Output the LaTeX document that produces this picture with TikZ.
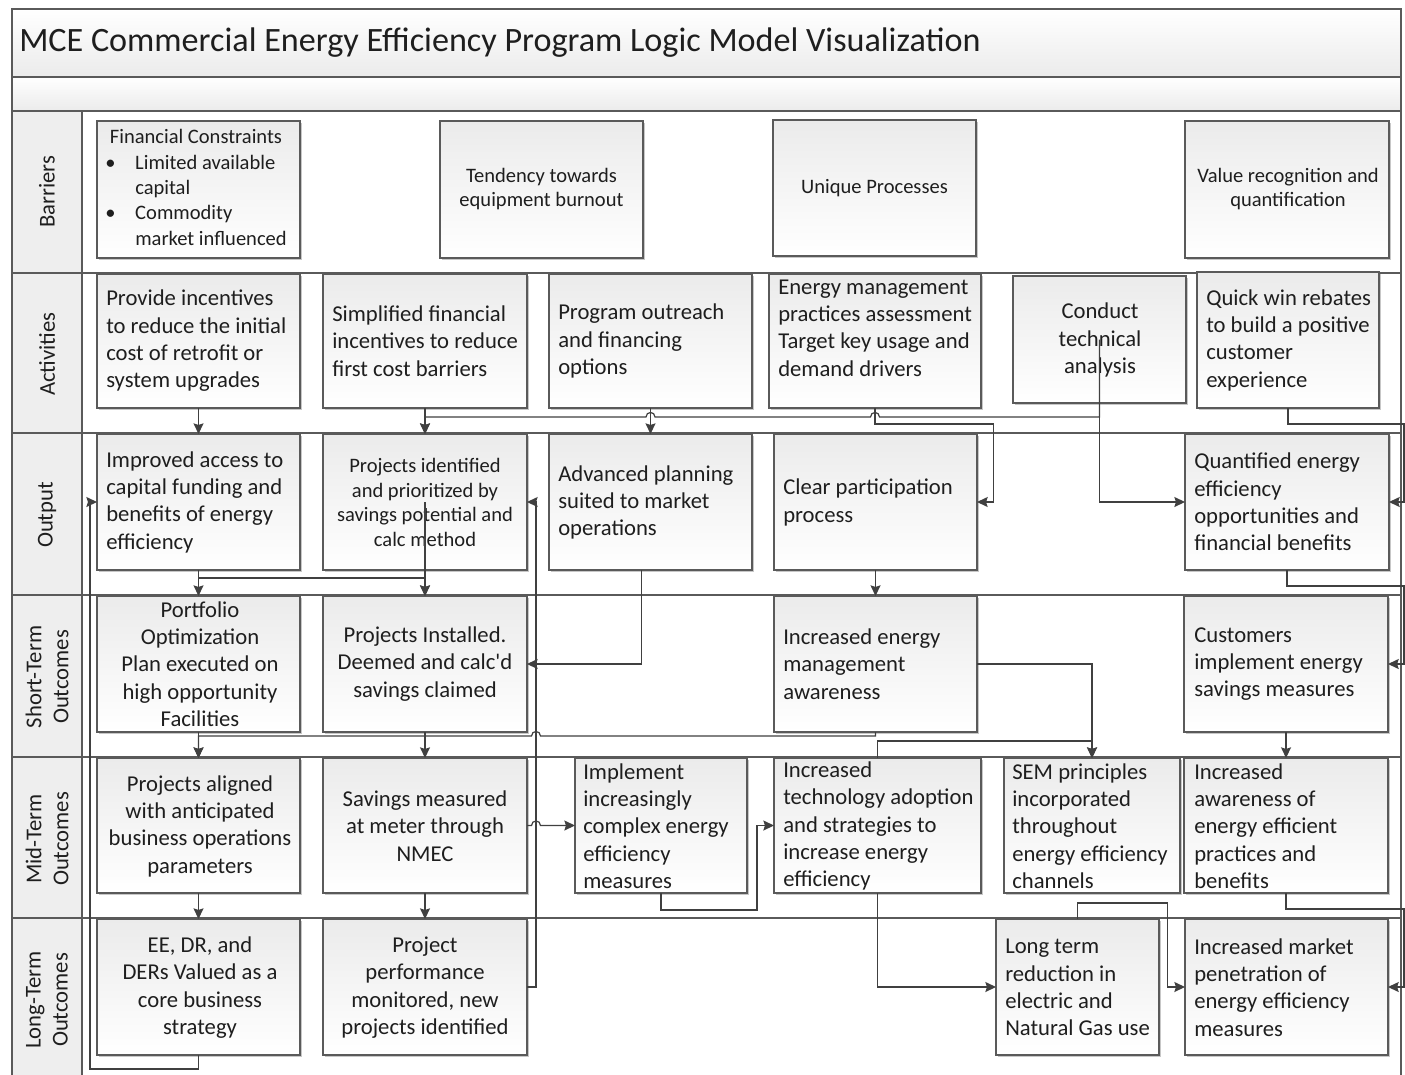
\documentclass[tikz,border=0pt]{standalone}
\usepackage{fontspec}
\setmainfont{Carlito}
\usetikzlibrary{arrows.meta,shadows}
\definecolor{ln}{HTML}{404040}
\definecolor{bd}{HTML}{5A5A5A}
\definecolor{tx}{HTML}{1E1E1E}
\definecolor{hd}{HTML}{EEEEEE}
\definecolor{bt}{HTML}{EBEBEB}
\newcommand{\bigf}{\fontsize{17pt}{20.5pt}\selectfont}
\newcommand{\smf}{\fontsize{15.4pt}{18.6pt}\selectfont}
\newcommand{\bx}[5]{\node[box, minimum width={(#4-#2)*0.75pt}, minimum height={(#5-#3)*0.75pt}] (#1) at ({(#2+#4)/2},{(#3+#5)/2}) {};}
\begin{document}
\begin{tikzpicture}[x=0.75pt,y=-0.75pt,
 box/.style={draw=bd, line width=0.8pt, top color=bt, bottom color=white, inner sep=0pt, outer sep=0pt,
   drop shadow={shadow xshift=1.3pt,shadow yshift=-1.3pt,opacity=0.22,fill=black}},
 tl/.style={anchor=west, align=left, inner sep=0pt, font=\bigf, text=tx},
 tc/.style={anchor=center, align=center, inner sep=0pt, font=\bigf, text=tx},
 conn/.style={draw=ln, line width=0.9pt, -{Stealth[length=8pt,width=7.5pt,inset=1.2pt]}},
 lane/.style={draw=bd, line width=0.8pt},
 lbl/.style={rotate=90, align=center, font=\fontsize{17pt}{20.3pt}\selectfont, text=tx, inner sep=0pt}
]
\useasboundingbox (0,0) rectangle (1405,1074);
\fill[white] (0,0) rectangle (1405,1074);
% frame and lanes
\path[lane, top color=white, bottom color=bt] (12,9) rectangle (1401,77);
\path[lane, top color=white, bottom color=bt] (12,77) rectangle (1401,111);
\path[lane, fill=hd] (12,111) rectangle (82,1082);
\draw[lane] (1401,111) -- (1401,1082);
\foreach \yy in {273,433,595,757,918} \draw[lane] (12,\yy) -- (1401,\yy);
\node[anchor=west, font=\fontsize{25.6pt}{30pt}\selectfont, text=tx, inner sep=0pt] (title) at (19,43) {MCE Commercial Energy Efficiency Program Logic Model Visualization};
\node[lbl] (L1) at (47,192) {Barriers};
\node[lbl] (L2) at (47,354) {Activities};
\node[lbl] (L3) at (47,515) {Output};
\node[lbl] (L4) at (47,677) {Short-Term\\Outcomes};
\node[lbl] (L5) at (47,839) {Mid-Term\\Outcomes};
\node[lbl] (L6) at (47,1000) {Long-Term\\Outcomes};
% boxes
\bx{B1}{97}{121}{300}{258}
\bx{B2}{440}{121}{643}{258}
\bx{B3}{773}{120}{976}{256}
\bx{B4}{1185}{121}{1389}{258}
\bx{A1}{97}{274}{300}{408}
\bx{A2}{323}{274}{527}{408}
\bx{A3}{549}{274}{752}{408}
\bx{A4}{769}{274}{981}{408}
\bx{A5}{1013}{276}{1186}{403}
\bx{A6}{1197}{272}{1379}{408}
\bx{O1}{97}{434}{300}{570}
\bx{O2}{323}{434}{527}{570}
\bx{O3}{549}{434}{752}{570}
\bx{O4}{774}{434}{977}{570}
\bx{O6}{1185}{434}{1389}{570}
\bx{S1}{97}{596}{300}{732}
\bx{S2}{323}{596}{527}{732}
\bx{S4}{774}{596}{977}{732}
\bx{S5}{1184}{596}{1388}{732}
\bx{M1}{97}{758}{300}{893}
\bx{M2}{323}{758}{527}{893}
\bx{M3}{575}{758}{747}{893}
\bx{M4}{774}{758}{981}{893}
\bx{M5}{1004}{758}{1180}{893}
\bx{M6}{1184}{758}{1388}{893}
\bx{T1}{97}{919}{300}{1055}
\bx{T2}{323}{919}{527}{1055}
\bx{T4}{996}{919}{1159}{1055}
\bx{T5}{1185}{919}{1388}{1055}
% texts
\node[anchor=west, inner sep=0pt, text=tx, font=\fontsize{15.4pt}{19pt}\selectfont] (B1t) at (105,189.5)
 {\begin{tabular}{@{}p{22.5pt}@{}l@{}}\multicolumn{2}{@{}c@{}}{Financial Constraints}\\ • & Limited available\\ & capital\\ • & Commodity\\ & market influenced\end{tabular}};
\node[tc, font=\smf] (B2t) at (541.5,189) {Tendency towards\\equipment burnout};
\node[tc, font=\smf] (B3t) at (874.5,188) {Unique Processes};
\node[tc, font=\smf] (B4t) at (1288,189) {Value recognition and\\quantification};
\node[tl] (A1t) at (106,341) {Provide incentives\\to reduce the initial\\cost of retrofit or\\system upgrades};
\node[tl] (A2t) at (332,341) {Simplified financial\\incentives to reduce\\first cost barriers};
\node[tl] (A3t) at (558,341) {Program outreach\\and financing\\options};
\node[tl] (A4t) at (778,328) {Energy management\\practices assessment\\Target key usage and\\demand drivers};
\node[tc] (A5t) at (1100,340) {Conduct\\technical\\analysis};
\node[tl] (A6t) at (1206,340) {Quick win rebates\\to build a positive\\customer\\experience};
\node[tl] (O1t) at (106,502) {Improved access to\\capital funding and\\benefits of energy\\efficiency};
\node[tc, font=\smf] (O2t) at (425,502.5) {Projects identified\\and prioritized by\\savings potential and\\calc method};
\node[tl] (O3t) at (558,502.5) {Advanced planning\\suited to market\\operations};
\node[tl] (O4t) at (783,502.5) {Clear participation\\process};
\node[tl] (O6t) at (1194,502) {Quantified energy\\efficiency\\opportunities and\\financial benefits};
\node[tc] (S1t) at (200,664) {Portfolio\\Optimization\\Plan executed on\\high opportunity\\Facilities};
\node[tc] (S2t) at (425,664) {Projects Installed.\\Deemed and calc\textquotesingle d\\savings claimed};
\node[tl] (S4t) at (783,664) {Increased energy\\management\\awareness};
\node[tl] (S5t) at (1194,664) {Customers\\implement energy\\savings measures};
\node[tc] (M1t) at (200,826) {Projects aligned\\with anticipated\\business operations\\parameters};
\node[tc] (M2t) at (425,826) {Savings measured\\at meter through\\NMEC};
\node[tl] (M3t) at (583,826) {Implement\\increasingly\\complex energy\\efficiency\\measures};
\node[tl] (M4t) at (783,826) {Increased\\technology adoption\\and strategies to\\increase energy\\efficiency};
\node[tl] (M5t) at (1012,826) {SEM principles\\incorporated\\throughout\\energy efficiency\\channels};
\node[tl] (M6t) at (1194,826) {Increased\\awareness of\\energy efficient\\practices and\\benefits};
\node[tc] (T1t) at (200,987.5) {EE, DR, and\\DERs Valued as a\\core business\\strategy};
\node[tc] (T2t) at (425,987.5) {Project\\performance\\monitored, new\\projects identified};
\node[tl] (T4t) at (1005,987.5) {Long term\\reduction in\\electric and\\Natural Gas use};
\node[tl] (T5t) at (1194,987.5) {Increased market\\penetration of\\energy efficiency\\measures};
% connectors
\draw[conn] (A1.south) -- (O1.north);
\draw[conn] (A2.south) -- (O2.north);
\draw[conn] (A3.south) -- (O3.north);
\draw[conn] (A5.center) |- (879.5,417) .. controls (879.5,411) and (870.5,411) .. (870.5,417) -- (655,417) .. controls (655,411) and (646,411) .. (646,417) -| (O2.north);
\draw[conn] (A5.center) |- (O6.west);
\draw[conn] (A4.south) -- (875,424) -- (993.6,424) |- (O4.east);
\draw[conn] (A6.south) -- (1288,424) -- (1404,424) |- (O6.east);
\draw[conn] (O1.south) -- (S1.north);
\draw[conn] (O1.south) -- (198.5,578) -| (S2.north);
\draw[conn] (O2.center) -- (S2.north);
\draw[conn] ([xshift=-6.75pt]O3.south) |- (S2.east);
\draw[conn] (O4.south) -- (S4.north);
\draw[conn] (O6.south) -- (1287,586) -- (1404,586) |- (S5.east);
\draw[conn] (S1.south) -- (M1.north);
\draw[conn] (S2.south) -- (M2.north);
\draw[conn] (S4.south) -- (875.5,736) -- (540.5,736) .. controls (540.5,730) and (531.5,730) .. (531.5,736) -| (M1.north);
\draw[conn] (S4.east) -| (M5.north);
\draw[conn] (M4.north) -- (877.5,741) -| (M5.north);
\draw[conn] (S5.south) -- (M6.north);
\draw[conn] (M1.south) -- (T1.north);
\draw[conn] (M2.south) -- (T2.north);
\draw[conn] (M2.east) -- (531.5,825.5) .. controls (531.5,819.5) and (540.5,819.5) .. (540.5,825.5) -- (M3.west);
\draw[conn] (M3.south) -- (661,910) -- (757,910) |- (M4.west);
\draw[conn] (M4.south) |- (T4.west);
\draw[conn] (T4.north) -- (1077.5,903) -- (1167.6,903) |- (T5.west);
\draw[conn] (M6.south) -- (1286,909) -- (1404,909) |- (T5.east);
\draw[conn] (T1.south) -- (198.5,1069) -- (90,1069) |- (O1.west);
\draw[conn] (T2.east) -- (536,987) |- (O2.east);
\end{tikzpicture}
\end{document}
